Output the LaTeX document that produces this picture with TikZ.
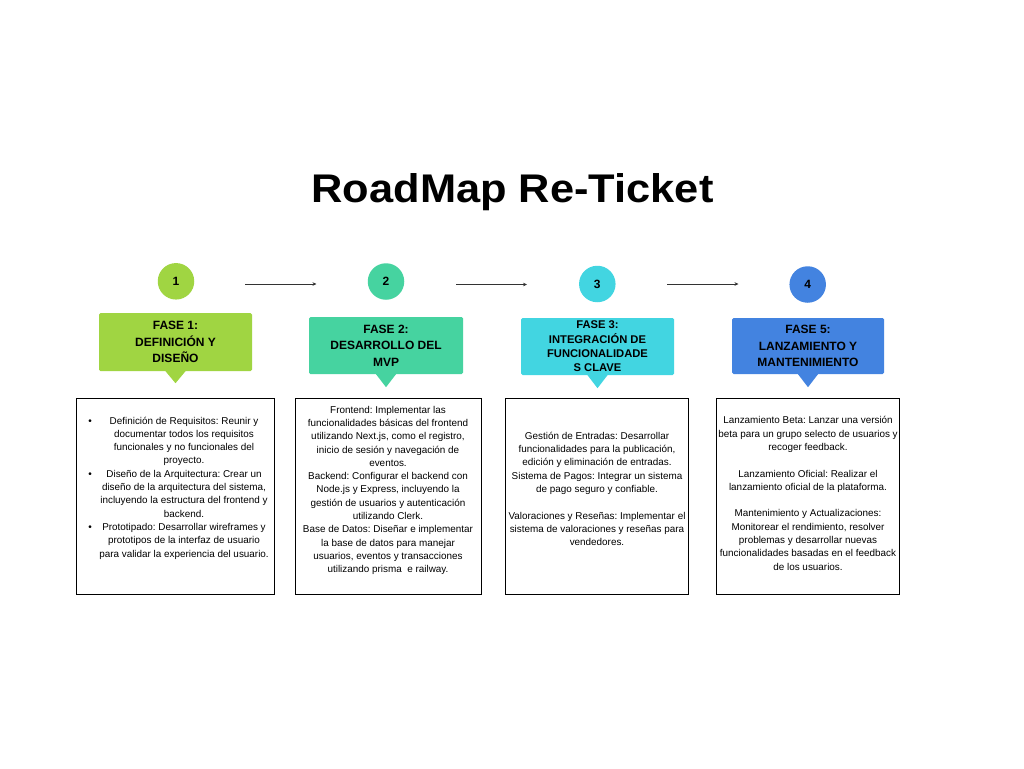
\documentclass[tikz,border=0pt]{standalone}
\usepackage{fontspec}
\setmainfont{Liberation Sans}
\usetikzlibrary{arrows.meta,calc}
\definecolor{limeC}{RGB}{160,213,66}
\definecolor{tealC}{RGB}{70,211,160}
\definecolor{cyanC}{RGB}{66,213,225}
\definecolor{blueC}{RGB}{67,131,224}
\frenchspacing
\tikzset{
  circ/.style={circle, minimum size=36.5pt, inner sep=0pt, font=\bfseries\fontsize{12}{14}\selectfont},
  phase/.style={rectangle, rounded corners=1.5pt, inner sep=0pt, align=center, minimum width=153pt, minimum height=57pt, font=\bfseries\fontsize{12}{16.5}\selectfont},
  infobox/.style={draw=black, line width=1pt, rectangle, inner sep=0pt},
  bodytext/.style={align=center, inner sep=0pt, font=\fontsize{9.9}{13.3}\selectfont},
  flow/.style={-{Stealth[length=4pt,width=3.6pt]}, line width=0.9pt, draw=black!80},
  bul/.style={anchor=base, inner sep=0pt, font=\fontsize{10}{12}\selectfont}
}
\begin{document}
\begin{tikzpicture}[x=1pt,y=-1pt]
\fill[white] (0,0) rectangle (1024,768);
\useasboundingbox (0,0) rectangle (1024,768);

% title
\node[anchor=base, inner sep=0pt, font=\bfseries\fontsize{40}{44}\selectfont] (title) at (512.5,202) {\scalebox{1.085}[1]{RoadMap Re-Ticket}};

% circles
\node[circ, fill=limeC] (n1) at (176,281.3) {1};
\node[circ, fill=tealC] (n2) at (386,281.5) {2};
\node[circ, fill=cyanC] (n3) at (597.3,284) {3};
\node[circ, fill=blueC] (n4) at (807.7,284.5) {4};

% arrows
\coordinate (a1s) at (245,284);
\coordinate (a1e) at (316.5,284);
\coordinate (a2s) at (456,284.5);
\coordinate (a2e) at (527,284.5);
\coordinate (a3s) at (667,284);
\coordinate (a3e) at (738.5,284);
\draw[flow] (a1s) -- (a1e);
\draw[flow] (a2s) -- (a2e);
\draw[flow] (a3s) -- (a3e);

% phase callouts
\node[phase, fill=limeC, minimum height=58pt] (c1) at (175.5,342) {FASE 1:\\DEFINICIÓN Y\\DISEÑO};
\node[phase, fill=tealC, minimum width=154pt] (c2) at (386,345.5) {FASE 2:\\DESARROLLO DEL\\MVP};
\node[phase, fill=cyanC, font=\bfseries\fontsize{11.2}{14.3}\selectfont] (c3) at (597.5,346.5) {FASE 3:\\INTEGRACIÓN DE\\FUNCIONALIDADE\\S CLAVE};
\node[phase, fill=blueC, minimum width=152pt, minimum height=56pt] (c4) at (808,346) {FASE 5:\\LANZAMIENTO Y\\MANTENIMIENTO};
\fill[limeC] ([xshift=-10pt]c1.south) -- ([xshift=10pt]c1.south) -- ($(c1.south)+(0,12)$) -- cycle;
\fill[tealC] ([xshift=-10pt]c2.south) -- ([xshift=10pt]c2.south) -- ($(c2.south)+(0,13)$) -- cycle;
\fill[cyanC] ([xshift=-10pt]c3.south) -- ([xshift=10pt]c3.south) -- ($(c3.south)+(0,13)$) -- cycle;
\fill[blueC] ([xshift=-10pt]c4.south) -- ([xshift=10pt]c4.south) -- ($(c4.south)+(0,13)$) -- cycle;

% boxes
\node[infobox, minimum width=197.5pt, minimum height=195.5pt] (b1) at (175.25,496.25) {};
\node[infobox, minimum width=185.5pt, minimum height=195.5pt] (b2) at (388.25,496.25) {};
\node[infobox, minimum width=183pt, minimum height=195.5pt] (b3) at (597,496.25) {};
\node[infobox, minimum width=183pt, minimum height=195.5pt] (b4) at (808,496.25) {};

% box texts
\node[bodytext] (t1) at (184,487.9) {Definición de Requisitos: Reunir y\\documentar todos los requisitos\\funcionales y no funcionales del\\proyecto.\\Diseño de la Arquitectura: Crear un\\diseño de la arquitectura del sistema,\\incluyendo la estructura del frontend y\\backend.\\Prototipado: Desarrollar wireframes y\\prototipos de la interfaz de usuario\\para validar la experiencia del usuario.};
\node[bul] (p1) at (90,424) {•};
\node[bul] (p2) at (90,477.2) {•};
\node[bul] (p3) at (90,530.4) {•};

\node[bodytext] (t2) at (388,490.4) {Frontend: Implementar las\\funcionalidades básicas del frontend\\utilizando Next.js, como el registro,\\inicio de sesión y navegación de\\eventos.\\Backend: Configurar el backend con\\Node.js y Express, incluyendo la\\gestión de usuarios y autenticación\\utilizando Clerk.\\Base de Datos: Diseñar e implementar\\la base de datos para manejar\\usuarios, eventos y transacciones\\utilizando prisma\ \ e railway.};

\node[bodytext] (t3) at (597,488.9) {Gestión de Entradas: Desarrollar\\funcionalidades para la publicación,\\edición y eliminación de entradas.\\Sistema de Pagos: Integrar un sistema\\de pago seguro y confiable.\\[13.3pt]Valoraciones y Reseñas: Implementar el\\sistema de valoraciones y reseñas para\\vendedores.};

\node[bodytext] (t4) at (808,493.4) {Lanzamiento Beta: Lanzar una versión\\beta para un grupo selecto de usuarios y\\recoger feedback.\\[13.3pt]Lanzamiento Oficial: Realizar el\\lanzamiento oficial de la plataforma.\\[13.3pt]Mantenimiento y Actualizaciones:\\Monitorear el rendimiento, resolver\\problemas y desarrollar nuevas\\funcionalidades basadas en el feedback\\de los usuarios.};
\end{tikzpicture}
\end{document}
